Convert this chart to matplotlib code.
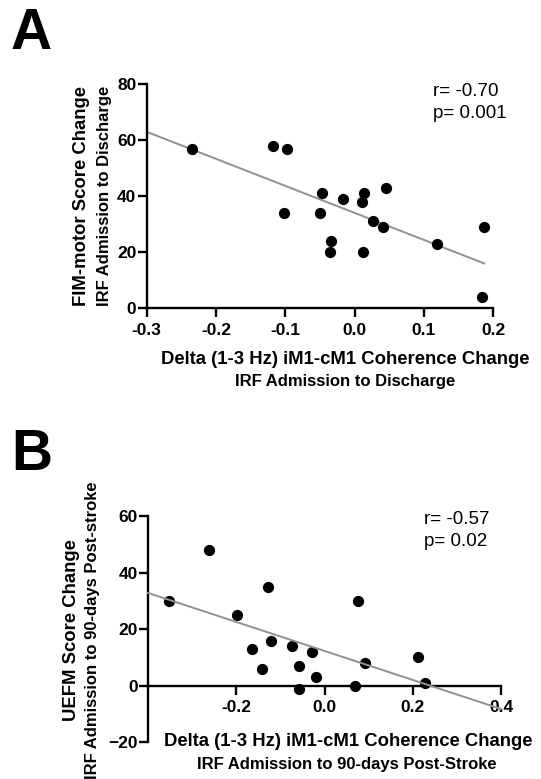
import numpy as np
import matplotlib
matplotlib.use("Agg")
import matplotlib.pyplot as plt

plt.rcParams['font.family'] = ['Liberation Sans', 'DejaVu Sans']

# Panel A: delta coherence change vs FIM-motor change
coh_a = [-0.234, -0.118, -0.097, -0.102, -0.047, -0.050, -0.017, -0.034, -0.035,
         0.012, 0.014, 0.010, 0.027, 0.041, 0.045, 0.119, 0.187, 0.183]
fim_a = [57, 58, 57, 34, 41, 34, 39, 24, 20, 20, 41, 38, 31, 29, 43, 23, 29, 4]

# Panel B: delta coherence change vs UEFM change
coh_b = [-0.353, -0.262, -0.199, -0.128, -0.164, -0.141, -0.121, -0.073, -0.057,
         -0.057, -0.029, -0.020, 0.068, 0.075, 0.091, 0.212, 0.227]
uefm_b = [30, 48, 25, 35, 13, 6, 16, 14, 7, -1, 12, 3, 0, 30, 8, 10, 1]

W, H = 541, 779
fig = plt.figure(figsize=(W / 100, H / 100), dpi=100)


def px(x, y):
    return x / W, 1 - y / H


def style_axes(ax):
    for s in ['top', 'right']:
        ax.spines[s].set_visible(False)
    for s in ['left', 'bottom']:
        ax.spines[s].set_linewidth(1.7)
    ax.tick_params(width=1.7, length=6.5, labelsize=12.5)
    ax.tick_params(axis='y', pad=1)
    ax.tick_params(axis='x', pad=4)
    for lab in ax.get_xticklabels() + ax.get_yticklabels():
        lab.set_fontweight('bold')


# ---- panel A ----
axA = fig.add_axes([146.7 / W, 1 - 308.4 / H, 346.6 / W, 224.4 / H])
axA.set_xlim(-0.3, 0.2)
axA.set_ylim(0, 80)
axA.set_xticks([-0.3, -0.2, -0.1, 0.0, 0.1, 0.2])
axA.set_xticklabels(['-0.3', '-0.2', '-0.1', '0.0', '0.1', '0.2'])
axA.set_yticks([0, 20, 40, 60, 80])
axA.scatter(coh_a, fim_a, s=50, color='black', zorder=3, clip_on=False)
k, b = np.polyfit(coh_a, fim_a, 1)
xs = np.array([-0.3, max(coh_a)])
axA.plot(xs, k * xs + b, color='#919191', lw=1.4, zorder=2)
style_axes(axA)

fig.text(*px(433, 91), 'r= -0.70', fontsize=13.5, va='center', ha='left')
fig.text(*px(433, 113), 'p= 0.001', fontsize=13.5, va='center', ha='left')
fig.text(*px(11, 49), 'A', fontsize=41, fontweight='bold', ha='left', va='baseline')
fig.text(*px(345, 360), 'Delta (1-3 Hz) iM1-cM1 Coherence Change', fontsize=13.3,
         fontweight='bold', ha='center', va='center')
fig.text(*px(345, 382), 'IRF Admission to Discharge', fontsize=12,
         fontweight='bold', ha='center', va='center')
fig.text(*px(82, 196), 'FIM-motor Score Change', fontsize=13.3, fontweight='bold',
         rotation=90, ha='center', va='center')
fig.text(*px(105, 196), 'IRF Admission to Discharge', fontsize=12, fontweight='bold',
         rotation=90, ha='center', va='center')

# ---- panel B ----
axB = fig.add_axes([148 / W, 1 - 742.2 / H, 353 / W, 226 / H])
axB.set_xlim(-0.4, 0.4)
axB.set_ylim(-20, 60)
axB.spines['bottom'].set_position(('data', 0))
axB.set_xticks([-0.2, 0.0, 0.2, 0.4])
axB.set_xticklabels(['-0.2', '0.0', '0.2', '0.4'])
axB.set_yticks([-20, 0, 20, 40, 60])
axB.scatter(coh_b, uefm_b, s=50, color='black', zorder=3, clip_on=False)
k, b = np.polyfit(coh_b, uefm_b, 1)
xs = np.array([-0.4, 0.4])
axB.plot(xs, k * xs + b, color='#919191', lw=1.4, zorder=4, clip_on=False)
style_axes(axB)

fig.text(*px(424, 519), 'r= -0.57', fontsize=13.5, va='center', ha='left')
fig.text(*px(424, 541), 'p= 0.02', fontsize=13.5, va='center', ha='left')
fig.text(*px(11, 470), 'B', fontsize=41, fontweight='bold', ha='left', va='baseline')
fig.text(*px(348, 742), 'Delta (1-3 Hz) iM1-cM1 Coherence Change', fontsize=13.3,
         fontweight='bold', ha='center', va='center')
fig.text(*px(347, 764), 'IRF Admission to 90-days Post-Stroke', fontsize=12,
         fontweight='bold', ha='center', va='center')
fig.text(*px(72, 630), 'UEFM Score Change', fontsize=13.3, fontweight='bold',
         rotation=90, ha='center', va='center')
fig.text(*px(93, 630), 'IRF Admission to 90-days Post-stroke', fontsize=12,
         fontweight='bold', rotation=90, ha='center', va='center')

fig.savefig('out.png', dpi=100)
